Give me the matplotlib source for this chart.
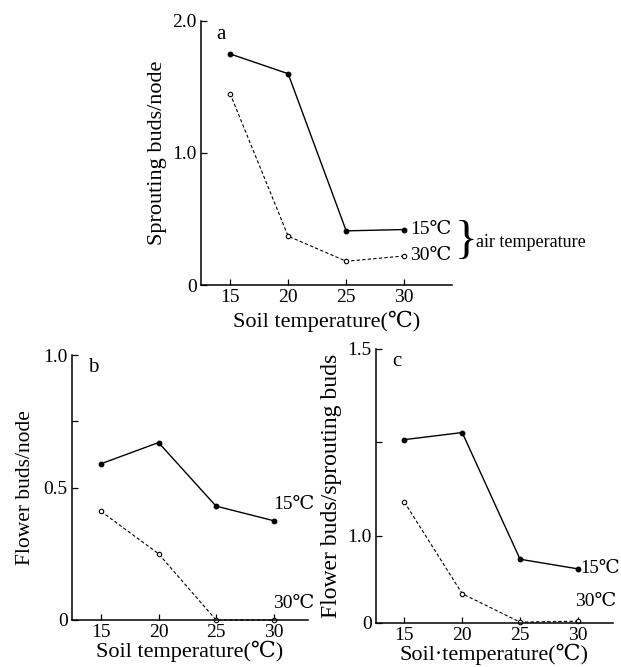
import numpy as np
import matplotlib
matplotlib.use('Agg')
import matplotlib.pyplot as plt

plt.rcParams['font.family'] = ['Liberation Serif', 'DejaVu Serif', 'Noto Sans CJK JP']

soil_temp = [15, 20, 25, 30]

# a: sprouting buds per node
sprout_15 = [1.75, 1.60, 0.41, 0.42]
sprout_30 = [1.45, 0.37, 0.18, 0.22]

# b: flower buds per node
flower_15 = [0.59, 0.67, 0.43, 0.375]
flower_30 = [0.41, 0.25, 0.0, 0.0]

# c: flower buds / sprouting buds (axis is compressed below 1.0 in the original)
ratio_15 = [1.257, 1.276, 0.73, 0.62]
ratio_30 = [1.09, 0.335, 0.01, 0.02]

air_labels = ['15℃', '30℃']


def fwd(y):
    y = np.asarray(y, dtype=float)
    return np.where(y <= 1, y, 1 + (y - 1) * 4.28)


def inv(y):
    y = np.asarray(y, dtype=float)
    return np.where(y <= 1, y, 1 + (y - 1) / 4.28)


def style_axes(ax):
    for s in ['top', 'right']:
        ax.spines[s].set_visible(False)
    for s in ['left', 'bottom']:
        ax.spines[s].set_linewidth(1.1)
    ax.tick_params(direction='in', length=4, width=0.9, labelsize=14, pad=3)
    ax.set_xticks(soil_temp)


def draw_lines(ax, y15, y30):
    ax.plot(soil_temp, y15, '-', color='black', lw=1.0, marker='o', ms=3.2,
            mfc='black', mec='black', clip_on=False)
    ax.plot(soil_temp, y30, linestyle=(0, (3, 2)), color='black', lw=0.8, marker='o',
            ms=3.2, mfc='white', mec='black', mew=0.8, clip_on=False)


fig = plt.figure(figsize=(6.21, 6.67), dpi=100)

# ---- panel a
ax_a = fig.add_axes([0.3237, 0.5727, 0.404, 0.396])
draw_lines(ax_a, sprout_15, sprout_30)
style_axes(ax_a)
ax_a.set_xlim(12.5, 34.1)
ax_a.set_ylim(0, 2.0)
ax_a.set_yticks([0, 1.0, 2.0])
ax_a.set_yticklabels(['0', '1.0', '2.0'])
ax_a.set_ylabel('Sprouting buds/node', fontsize=16, labelpad=4)
ax_a.set_xlabel('Soil temperature(℃)', fontsize=16, labelpad=3)
ax_a.text(0.06, 0.985, 'a', transform=ax_a.transAxes, fontsize=15, va='top')
ax_a.annotate(air_labels[0], (soil_temp[-1], sprout_15[-1]), xytext=(4, 0),
              textcoords='offset points', fontsize=14, va='center', annotation_clip=False)
ax_a.annotate(air_labels[1], (soil_temp[-1], sprout_30[-1]), xytext=(4, 0),
              textcoords='offset points', fontsize=14, va='center', annotation_clip=False)
ax_a.text(1.01, 0.165, '}', transform=ax_a.transAxes, fontsize=34, va='center',
          ha='left', fontweight='light')
ax_a.text(1.095, 0.16, 'air temperature', transform=ax_a.transAxes, fontsize=13,
          va='center', ha='left')

# ---- panel b
ax_b = fig.add_axes([0.1155, 0.0705, 0.3805, 0.397])
draw_lines(ax_b, flower_15, flower_30)
style_axes(ax_b)
ax_b.set_xlim(12.45, 33.0)
ax_b.set_ylim(0, 1.0)
ax_b.set_yticks([0, 0.5, 1.0])
ax_b.set_yticklabels(['0', '0.5', '1.0'])
ax_b.set_yticks([0.75], minor=True)
ax_b.tick_params(which='minor', direction='in', length=4, width=0.9)
ax_b.set_ylabel('Flower buds/node', fontsize=15.5, labelpad=6)
ax_b.set_xlabel('Soil temperature(℃)', fontsize=16, labelpad=0)
ax_b.text(0.07, 0.99, 'b', transform=ax_b.transAxes, fontsize=15, va='top')
ax_b.annotate(air_labels[0], (soil_temp[-1], flower_15[-1]), xytext=(0, 12),
              textcoords='offset points', fontsize=14, va='center', annotation_clip=False)
ax_b.annotate(air_labels[1], (soil_temp[-1], flower_30[-1]), xytext=(0, 12),
              textcoords='offset points', fontsize=14, va='center', annotation_clip=False)

# ---- panel c
ax_c = fig.add_axes([0.6055, 0.066, 0.381, 0.411])
ax_c.set_yscale('function', functions=(fwd, inv))
draw_lines(ax_c, ratio_15, ratio_30)
style_axes(ax_c)
ax_c.set_xlim(12.55, 33.0)
ax_c.set_ylim(0, 1.5)
ax_c.set_yticks([0, 1.0, 1.5])
ax_c.set_yticklabels(['0', '1.0', '1.5'])
ax_c.set_yticks([1.25], minor=True)
ax_c.tick_params(which='minor', direction='in', length=4, width=0.9)
ax_c.set_ylabel('Flower buds/sprouting buds', fontsize=17, labelpad=4)
ax_c.set_xlabel('Soil·temperature(℃)', fontsize=16, labelpad=0)
ax_c.text(0.07, 0.99, 'c', transform=ax_c.transAxes, fontsize=15, va='top')
ax_c.annotate(air_labels[0], (soil_temp[-1], ratio_15[-1]), xytext=(1.5, 0),
              textcoords='offset points', fontsize=13.5, va='center', annotation_clip=False)
ax_c.annotate(air_labels[1], (soil_temp[-1], ratio_30[-1]), xytext=(-2, 14),
              textcoords='offset points', fontsize=14, va='center', annotation_clip=False)

fig.savefig('out.png', dpi=100)
